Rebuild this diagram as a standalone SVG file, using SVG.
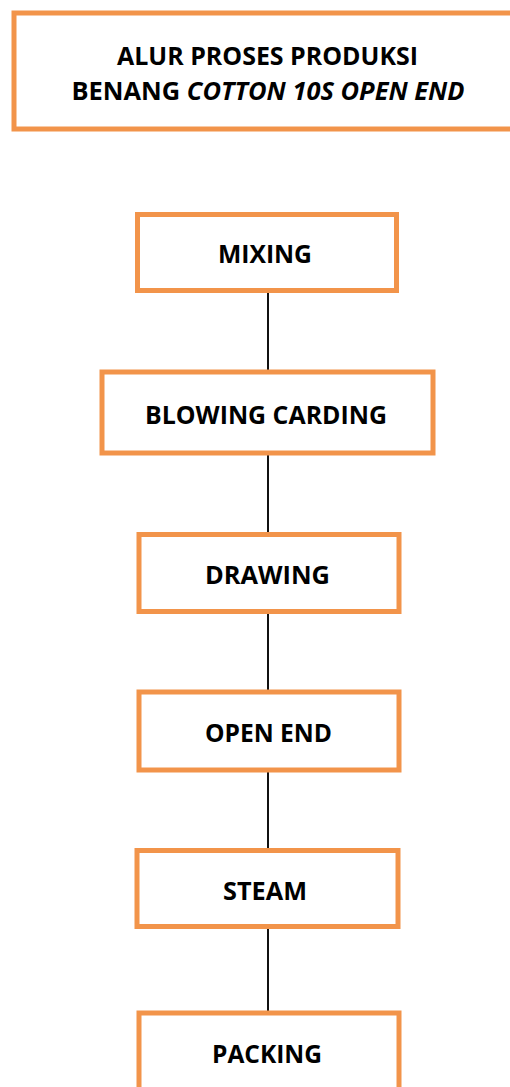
<svg xmlns="http://www.w3.org/2000/svg" width="510" height="1087" viewBox="0 0 510 1087">
<style>
.box{fill:#ffffff;stroke:#F2944A;stroke-width:5}
.lbl{font-family:"Open Sans","Liberation Sans",sans-serif;font-weight:700;font-size:25px;fill:#000000;text-anchor:middle}
.it{font-style:italic}
.con{stroke:#111111;stroke-width:2;fill:none}
</style>
<rect width="510" height="1087" fill="#ffffff"/>
<g id="title">
<rect class="box" x="14" y="13" width="510" height="116"/>
<text class="lbl" x="267.5" y="65" textLength="301" lengthAdjust="spacingAndGlyphs">ALUR PROSES PRODUKSI</text>
<text class="lbl" x="268" y="100" textLength="393" lengthAdjust="spacingAndGlyphs">BENANG <tspan class="it">COTTON 10S OPEN END</tspan></text>
</g>
<g id="connectors">
<line class="con" x1="268" y1="293" x2="268" y2="370"/>
<line class="con" x1="268" y1="455" x2="268" y2="533"/>
<line class="con" x1="268" y1="614" x2="268" y2="690"/>
<line class="con" x1="268" y1="772" x2="268" y2="849"/>
<line class="con" x1="268" y1="929" x2="268" y2="1011"/>
</g>
<g id="mixing">
<rect class="box" x="137.5" y="214.5" width="259" height="76"/>
<text class="lbl" x="265" y="263" textLength="94" lengthAdjust="spacingAndGlyphs">MIXING</text>
</g>
<g id="blowing-carding">
<rect class="box" x="102" y="372" width="331" height="81"/>
<text class="lbl" x="266" y="424" textLength="242" lengthAdjust="spacingAndGlyphs">BLOWING CARDING</text>
</g>
<g id="drawing">
<rect class="box" x="139" y="534.5" width="260" height="77"/>
<text class="lbl" x="267.5" y="584" textLength="125" lengthAdjust="spacingAndGlyphs">DRAWING</text>
</g>
<g id="open-end">
<rect class="box" x="139" y="692" width="260" height="78"/>
<text class="lbl" x="268.5" y="742" textLength="127" lengthAdjust="spacingAndGlyphs">OPEN END</text>
</g>
<g id="steam">
<rect class="box" x="137" y="850.5" width="261" height="76"/>
<text class="lbl" x="265" y="900" textLength="84" lengthAdjust="spacingAndGlyphs">STEAM</text>
</g>
<g id="packing">
<rect class="box" x="139" y="1013" width="260" height="100"/>
<text class="lbl" x="267" y="1063" textLength="110" lengthAdjust="spacingAndGlyphs">PACKING</text>
</g>
</svg>
